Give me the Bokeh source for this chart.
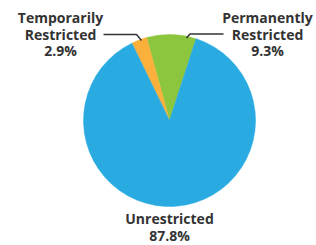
import math
from bokeh.plotting import figure
from bokeh.models import Range1d, ColumnDataSource
from bokeh.core.properties import value
from bokeh.embed import file_html
from bokeh.resources import INLINE

# ---- data ----
categories = ["Permanently Restricted", "Temporarily Restricted", "Unrestricted"]
percents = [9.3, 2.9, 87.8]
colors = ["#8CC63F", "#FBB03B", "#29ABE2"]
label_lines = [["Permanently", "Restricted", "9.3%"],
               ["Temporarily", "Restricted", "2.9%"],
               ["Unrestricted", "87.8%"]]

# ---- layout (picture pixel coords) ----
W, H = 316, 245
def sy(y):  # picture y -> data y
    return H - y

CX, CY, R = 169, 120, 86
START_DEG = 72.0

p = figure(width=W, height=H, output_backend="svg", toolbar_location=None,
           x_range=Range1d(0, W), y_range=Range1d(0, H), min_border=0)
p.axis.visible = False
p.grid.visible = False
p.outline_line_color = None
p.background_fill_color = "white"

total = sum(percents)
starts, ends = [], []
a = math.radians(START_DEG)
for v in percents:
    starts.append(a)
    a += v / total * 2 * math.pi
    ends.append(a)

src = ColumnDataSource(dict(cat=categories, start=starts, end=ends, color=colors))
p.wedge(x=CX, y=sy(CY), radius=R, radius_units="screen", start_angle="start",
        end_angle="end", direction="anticlock", fill_color="color",
        line_color="color", line_width=0.5, source=src)

# leader lines
p.line(x=[103, 136, 141], y=[sy(34), sy(34), sy(40)], line_color="#333333", line_width=1.5)
p.line(x=[186, 189.5, 223], y=[sy(37.5), sy(33.5), sy(33.5)], line_color="#333333", line_width=1.5)

# labels
label_pos = [(267, 17), (60, 17), (169, 218)]
LH = 16.5
for lines, (lx, ly) in zip(label_lines, label_pos):
    for i, t in enumerate(lines):
        p.text(x=[lx], y=[sy(ly + i * LH)], text=[t], text_align="center",
               text_baseline="middle", text_font=value("Open Sans"),
               text_font_style="bold", text_font_size="14px", text_color="#333333")

open("out.html", "w").write(file_html(p, INLINE))
